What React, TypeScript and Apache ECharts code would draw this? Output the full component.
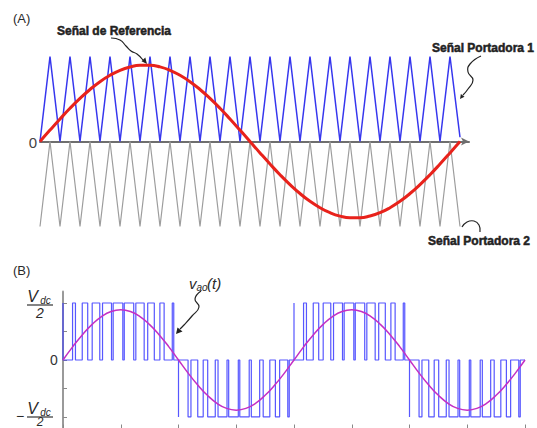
import React, { useEffect, useRef } from "react";
import * as echarts from "echarts";

// ---------- Panel (A) data: time in carrier periods ----------
const carrierStep = 0.5; // vertices every half carrier period
const carrier1Values = [
  0, 1, 0, 1, 0, 1, 0, 1, 0, 1,
  0, 1, 0, 1, 0, 1, 0, 1, 0, 1,
  0, 1, 0, 1, 0, 1, 0, 1, 0, 1,
  0, 1, 0, 1, 0, 1, 0, 1, 0, 1,
  0, 1, 0.05,
];
const carrier2Values = [
  -1, 0, -1, 0, -1, 0, -1, 0, -1, 0,
  -1, 0, -1, 0, -1, 0, -1, 0, -1, 0,
  -1, 0, -1, 0, -1, 0, -1, 0, -1, 0,
  -1, 0, -1, 0, -1, 0, -1, 0, -1, 0,
  -1, 0, -1,
];
const referenceStep = 0.5;
const referenceValues = [
  0, 0.134, 0.265, 0.391, 0.507, 0.612, 0.704, 0.779, 0.838, 0.877, 0.897,
  0.897, 0.878, 0.838, 0.779, 0.704, 0.612, 0.507, 0.391, 0.265, 0.134, 0,
  -0.134, -0.265, -0.391, -0.507, -0.612, -0.704, -0.779, -0.838, -0.878, -0.897,
  -0.897, -0.877, -0.838, -0.779, -0.704, -0.612, -0.507, -0.391, -0.265, -0.134, 0,
];

// ---------- Panel (B) data: angle in degrees ----------
const angleStep = 15;
const modulatingValues = [
  0, 0.23, 0.44, 0.62, 0.76, 0.85, 0.88, 0.85, 0.76, 0.62, 0.44, 0.23,
  0, -0.23, -0.44, -0.62, -0.76, -0.85, -0.88, -0.85, -0.76, -0.62, -0.44, -0.23,
  0, 0.23, 0.44, 0.62, 0.76, 0.85, 0.88, 0.85, 0.76, 0.62, 0.44, 0.23,
  0, -0.23, -0.44, -0.62, -0.76, -0.85, -0.88, -0.85, -0.76, -0.62, -0.44, -0.23,
  0,
];
const positivePulses = [
  [0, 0], [14.9, 19.4], [30.0, 38.5], [45.5, 57.3], [61.6, 75.6], [78.2, 93.2],
  [95.5, 110.2], [113.5, 126.5], [132.0, 142.3], [151.0, 157.6], [170.3, 172.6],
  [360, 360], [374.9, 379.4], [390.0, 398.5], [405.5, 417.3], [421.6, 435.6], [438.2, 453.2],
  [455.5, 470.2], [473.5, 486.5], [492.0, 502.3], [511.0, 517.6], [530.3, 532.6],
];
const negativePulses = [
  [180, 180], [194.9, 199.4], [210.0, 218.5], [225.5, 237.3], [241.6, 255.6], [258.2, 273.2],
  [275.5, 290.2], [293.5, 306.5], [312.0, 322.3], [331.0, 337.6], [350.3, 352.6],
  [540, 540], [554.9, 559.4], [570.0, 578.5], [585.5, 597.3], [601.6, 615.6], [618.2, 633.2],
  [635.5, 650.2], [653.5, 666.5], [672.0, 682.3], [691.0, 697.6], [710.3, 712.6],
];
const yTickValuesB = [-1, -0.5, 0, 0.5, 1];

const TXT = "#2a2a2a";
const FONT = '"Liberation Sans", Arial, sans-serif';

function buildOption() {
  const pulses = [
    ...positivePulses.map(([a, b]) => ({ a, b, l: 1 })),
    ...negativePulses.map(([a, b]) => ({ a, b, l: -1 })),
  ].sort((p, q) => p.a - q.a);
  const pwmData: number[][] = [[0, 0]];
  pulses.forEach((p) => {
    pwmData.push([p.a, 0], [p.a, p.l], [p.b, p.l], [p.b, 0]);
  });
  pwmData.push([720, 0]);

  const txt = (text: string, x: number, y: number, font: string, align = "left", fill = TXT) => ({
    type: "text",
    x,
    y,
    silent: true,
    style: { text, font, fill, textAlign: align, textVerticalAlign: "middle" },
  });
  const boldTxt = (text: string, x: number, y: number, align = "left") => ({
    type: "text",
    x,
    y,
    silent: true,
    style: {
      text,
      font: `bold 12px ${FONT}`,
      fill: "#222",
      stroke: "#222",
      lineWidth: 0.5,
      textAlign: align,
      textVerticalAlign: "middle",
    },
  });
  const arrow = (pts: number[][]) => ({
    type: "polygon",
    silent: true,
    shape: { points: pts },
    style: { fill: "#222" },
  });
  const curve = (pts: number[][]) => ({
    type: "polyline",
    silent: true,
    shape: { points: pts, smooth: 0.5 },
    style: { stroke: "#222", lineWidth: 1.2, fill: "none" },
  });

  return {
    animation: false,
    backgroundColor: "#ffffff",
    grid: [
      { left: 40, top: 48, width: 429, height: 187 },
      { left: 63, right: 12, top: 291.6, bottom: 10.5 },
    ],
    xAxis: [
      {
        gridIndex: 0,
        type: "value",
        min: 0,
        max: 21.45,
        axisLine: {
          show: true,
          onZero: true,
          symbol: ["none", "arrow"],
          symbolSize: [6, 8],
          lineStyle: { color: "#6e6e6e", width: 2 },
        },
        axisTick: { show: false },
        axisLabel: { show: false },
        splitLine: { show: false },
      },
      {
        gridIndex: 1,
        type: "value",
        min: 0,
        max: 720,
        interval: 90,
        axisLine: { show: true, onZero: false, lineStyle: { color: "#999", width: 1.5 } },
        axisTick: { show: true, inside: true, length: 5, lineStyle: { color: "#888", width: 1 } },
        axisLabel: { show: false },
        splitLine: { show: false },
      },
    ],
    yAxis: [
      { gridIndex: 0, type: "value", min: -1.1, max: 1.1, show: false },
      {
        gridIndex: 1,
        type: "value",
        min: -1.22,
        max: 1.2,
        axisLine: { show: true, onZero: false, lineStyle: { color: "#9a9a9a", width: 2 } },
        axisTick: {
          show: true,
          inside: true,
          length: 4,
          customValues: yTickValuesB,
          lineStyle: { color: "#888", width: 1 },
        },
        axisLabel: { show: false },
        splitLine: { show: false },
      },
    ],
    series: [
      {
        type: "line",
        xAxisIndex: 0,
        yAxisIndex: 0,
        data: carrier2Values.map((v, i) => [i * carrierStep, v]),
        showSymbol: false,
        lineStyle: { color: "#9d9d9d", width: 1.2 },
        z: 2,
        silent: true,
      },
      {
        type: "line",
        xAxisIndex: 0,
        yAxisIndex: 0,
        data: carrier1Values.map((v, i) => [i * carrierStep, v]),
        showSymbol: false,
        lineStyle: { color: "#3636ee", width: 1.5 },
        z: 3,
        silent: true,
      },
      {
        type: "line",
        xAxisIndex: 0,
        yAxisIndex: 0,
        data: referenceValues.map((v, i) => [i * referenceStep, v]),
        showSymbol: false,
        smooth: true,
        lineStyle: { color: "#e8221b", width: 3 },
        z: 4,
        silent: true,
      },
      {
        type: "line",
        xAxisIndex: 1,
        yAxisIndex: 1,
        data: pwmData,
        showSymbol: false,
        clip: false,
        lineStyle: { color: "#3a3aff", width: 1.2, opacity: 0.85 },
        z: 3,
        silent: true,
      },
      {
        type: "line",
        xAxisIndex: 1,
        yAxisIndex: 1,
        data: modulatingValues.map((v, i) => [i * angleStep, v]),
        showSymbol: false,
        smooth: true,
        lineStyle: { color: "#c42fc4", width: 1.5 },
        z: 4,
        silent: true,
      },
    ],
    graphic: [
      txt("(A)", 13, 18, `13px ${FONT}`),
      txt("0", 33, 142, `15px ${FONT}`, "center", "#444"),
      boldTxt("Señal de Referencia", 114, 31, "center"),
      boldTxt("Señal Portadora 1", 432, 48),
      boldTxt("Señal Portadora 2", 428, 241),
      curve([[111, 38], [120, 40], [126, 46], [131, 51], [137, 54], [143, 60]]),
      arrow([[147, 64], [141.5, 61.3], [145.3, 57.5]]),
      curve([[481, 56], [470, 64], [468, 72], [473, 80], [468, 89], [463, 95]]),
      arrow([[460, 99], [464.5, 96.7], [460.9, 94.1]]),
      curve([[462, 227], [467, 222], [474, 221], [479, 225], [480, 232]]),
      txt("(B)", 13, 270, `13px ${FONT}`),
      txt("0", 54, 360, `14px ${FONT}`, "center", "#333"),
      txt("v", 189, 283, `italic 15px ${FONT}`, "left"),
      txt("ao", 196.5, 287, `italic 10px ${FONT}`, "left"),
      txt("(t)", 207, 283, `italic 15px ${FONT}`, "left"),
      curve([[201, 291], [195, 299], [199, 307], [192, 316], [184, 325], [180, 329]]),
      arrow([[176, 334], [177.5, 327.5], [182.5, 331.5]]),
      // +Vdc/2
      txt("V", 32.5, 296, `italic 16px ${FONT}`, "center"),
      txt("dc", 45.5, 300, `italic 10px ${FONT}`, "center"),
      { type: "line", silent: true, shape: { x1: 27, y1: 305, x2: 53, y2: 305 }, style: { stroke: "#333", lineWidth: 1.2 } },
      txt("2", 40, 313, `italic 14px ${FONT}`, "center"),
      // -Vdc/2
      txt("−", 20, 416, `14px ${FONT}`, "center"),
      txt("V", 32.5, 408, `italic 16px ${FONT}`, "center"),
      txt("dc", 45.5, 412, `italic 10px ${FONT}`, "center"),
      { type: "line", silent: true, shape: { x1: 27, y1: 417, x2: 53, y2: 417 }, style: { stroke: "#333", lineWidth: 1.2 } },
      txt("2", 40, 422, `italic 12px ${FONT}`, "center"),
    ],
  };
}

export default function App() {
  const ref = useRef<HTMLDivElement>(null);
  useEffect(() => {
    if (!ref.current) return;
    const chart = echarts.init(ref.current, null, { renderer: "svg" });
    chart.setOption(buildOption() as any);
    return () => chart.dispose();
  }, []);
  return (
    <div
      ref={ref}
      style={{ position: "fixed", left: 0, top: 0, width: 537, height: 440, background: "#fff" }}
    />
  );
}
